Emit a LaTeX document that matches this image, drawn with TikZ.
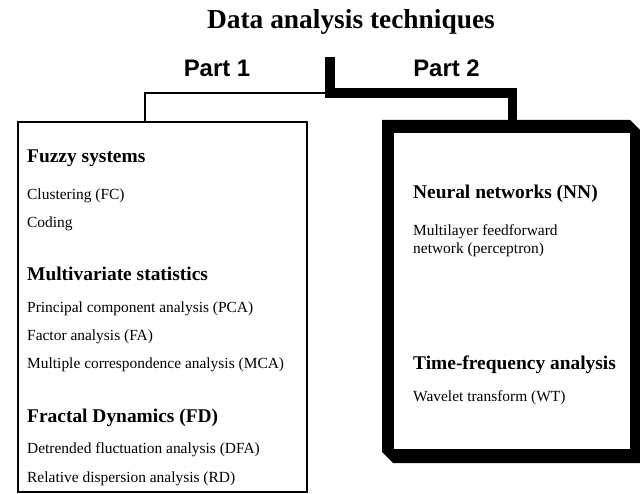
\documentclass[tikz,border=0pt]{standalone}
\usepackage{fontspec}
\setmainfont{Liberation Serif}
\setsansfont{Liberation Sans}
\usetikzlibrary{calc}

\begin{document}
\begin{tikzpicture}[x=1bp,y=-1bp]
    \tikzstyle{title} = [anchor=base,inner sep=0,font=\fontsize{27.5}{31}\selectfont\bfseries]
    \tikzstyle{part} = [anchor=base,inner sep=0,font=\fontsize{24}{28}\selectfont\sffamily\bfseries]
    \tikzstyle{heading} = [anchor=base west,inner sep=0,font=\fontsize{19.5}{22}\selectfont\bfseries]
    \tikzstyle{item} = [anchor=base west,inner sep=0,font=\fontsize{15.5}{18}\selectfont]
    \tikzstyle{thinbox} = [rectangle,draw=black,line width=2.4bp,fill=white,inner sep=0]
    \tikzstyle{thinline} = [line width=2.4bp]
    \tikzstyle{thickline} = [line width=9.5bp]

    \useasboundingbox (0,0) rectangle (640,494);

    \node (title) [title] at (351,29) {Data analysis techniques};
    \node (part1) [part] at (217,77) {Part 1};
    \node (part2) [part] at (446.5,77) {Part 2};

    % the two boxes
    \node (box1) [thinbox, minimum width=289bp, minimum height=370bp] at (162.5,307) {};
    \node (box2) [rectangle, inner sep=0, minimum width=236bp, minimum height=316bp] at (512,291) {};
    \fill[even odd rule] (382,120) -- (630,120) -- (640,130) -- (640,463) -- (393,463) -- (382,452) -- cycle
        (box2.north west) rectangle (box2.south east);

    % connectors
    \coordinate (root) at (330,57);
    \coordinate (box2top) at ($(box2.north)+(0.5,-13)$);
    \draw[thinline] ([xshift=-17.5bp]box1.north) |- (root |- 0,93);
    \draw[thickline] (root) |- (box2top |- 0,93) -- (box2top);

    % Part 1
    \node (fuzzy) [heading] at (27,163) {Fuzzy systems};
    \node (fc) [item] at (27,200) {Clustering (FC)};
    \node (coding) [item] at (27,228) {Coding};
    \node (mvstat) [heading] at (27,280) {Multivariate statistics};
    \node (pca) [item] at (27,312) {Principal component analysis (PCA)};
    \node (fa) [item] at (27,340) {Factor analysis (FA)};
    \node (mca) [item] at (27,368) {Multiple correspondence analysis (MCA)};
    \node (fd) [heading] at (27,422) {Fractal Dynamics (FD)};
    \node (dfa) [item] at (27,453) {Detrended fluctuation analysis (DFA)};
    \node (rd) [item] at (27,482) {Relative dispersion analysis (RD)};

    % Part 2
    \node (nn) [heading] at (413,198.5) {Neural networks (NN)};
    \node (mlp1) [item] at (413,235.5) {Multilayer feedforward};
    \node (mlp2) [item] at (413,254) {network (perceptron)};
    \node (tf) [heading] at (413,369) {Time-frequency analysis};
    \node (wt) [item] at (413,401) {Wavelet transform (WT)};

\end{tikzpicture}
\end{document}
